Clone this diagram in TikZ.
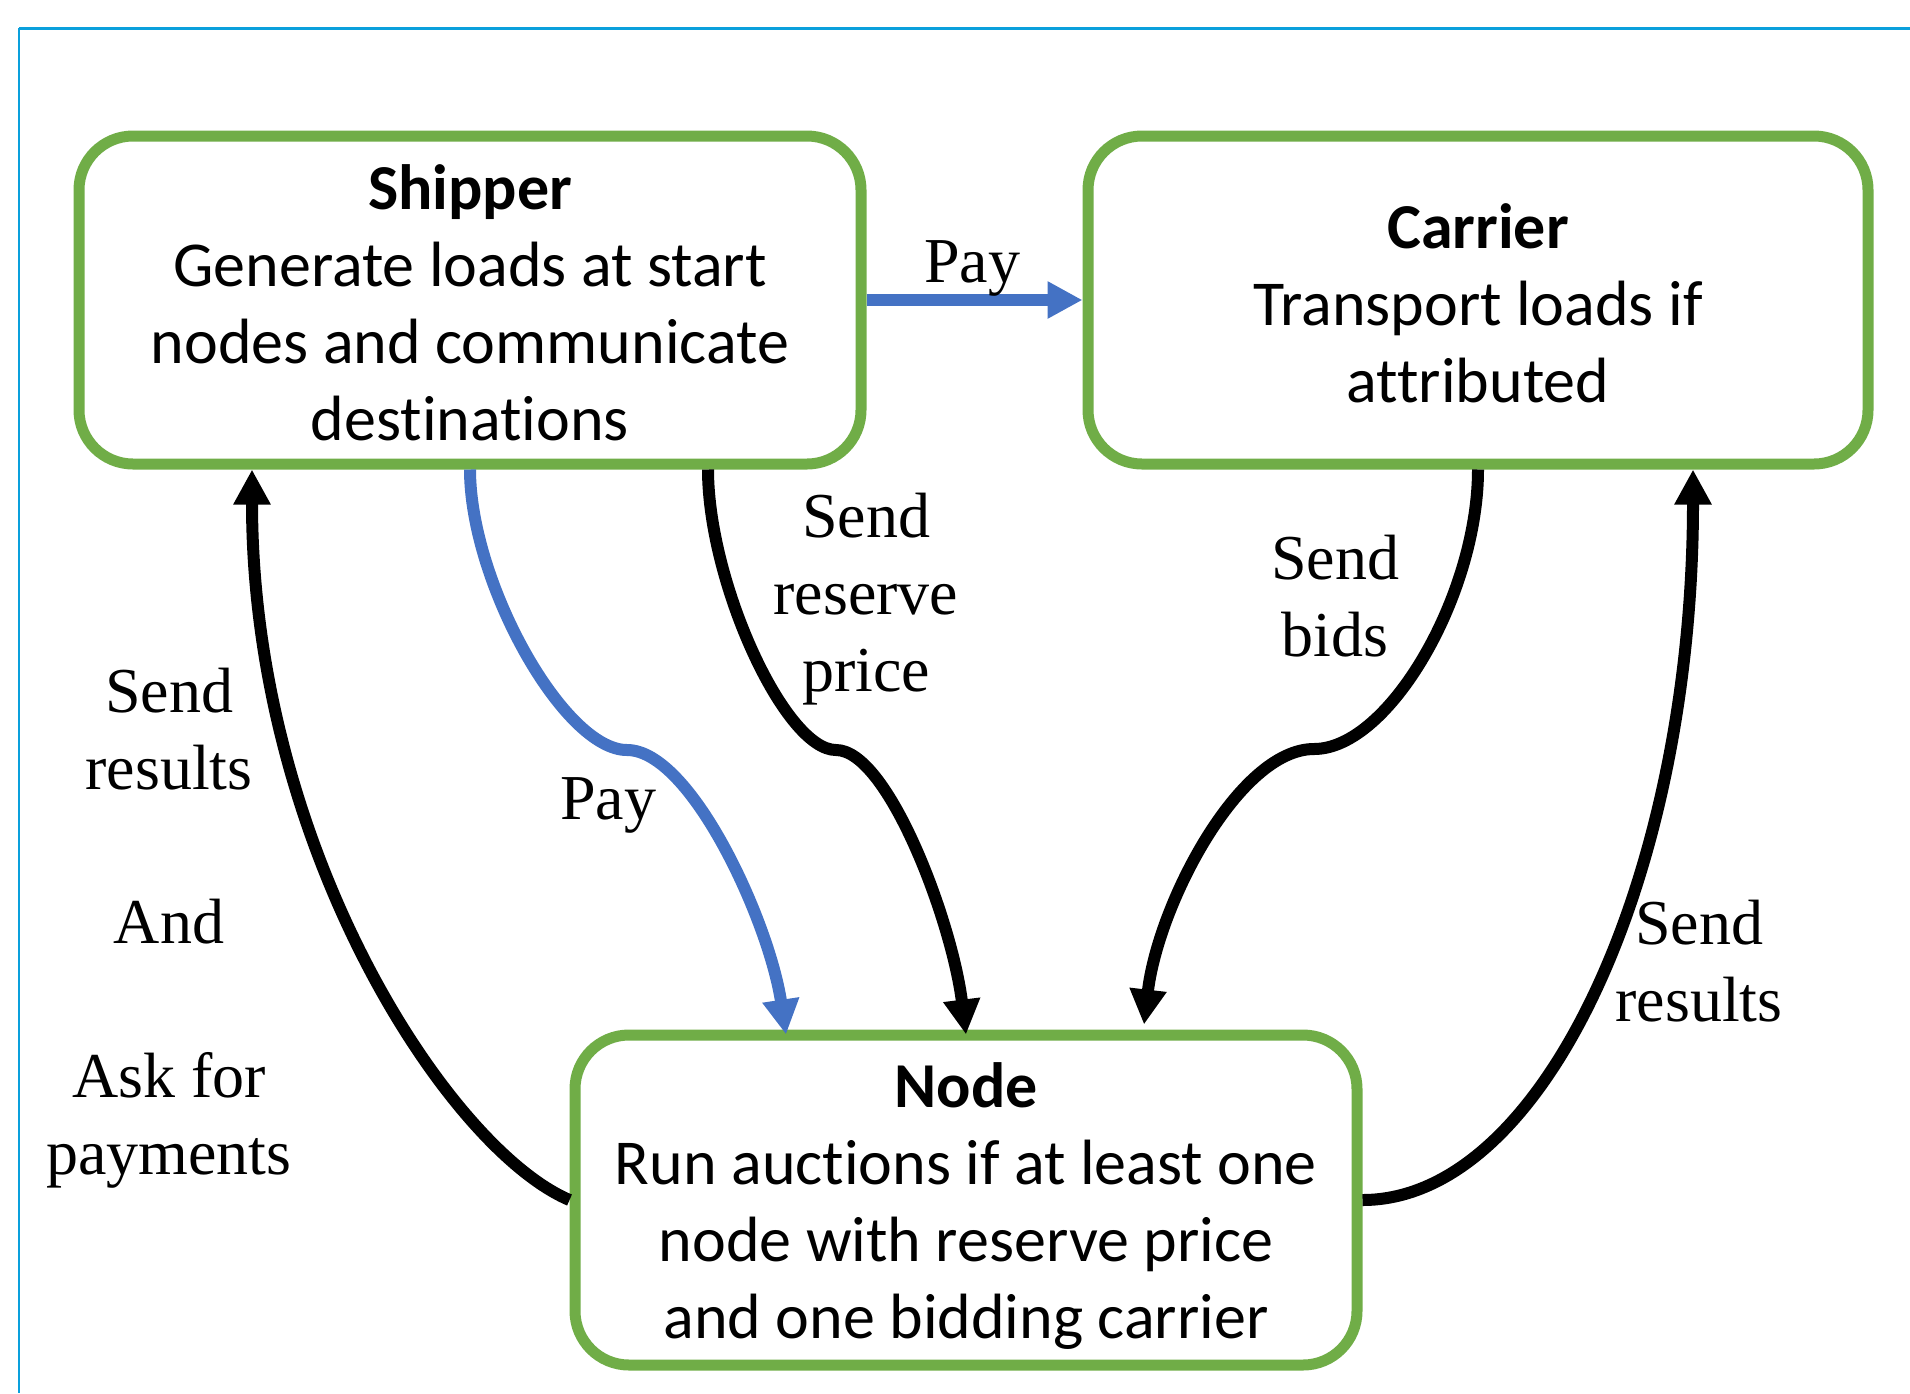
\documentclass[tikz,border=0pt]{standalone}
\usepackage{fontspec}
\setmainfont{Liberation Serif}
\newfontfamily\boxfont[Ligatures={NoCommon,NoContextual}]{Carlito}
\usetikzlibrary{arrows.meta}
\definecolor{boxgreen}{HTML}{70AD47}
\definecolor{arrowblue}{HTML}{4472C4}
\definecolor{framecol}{HTML}{0AA0DC}
\tikzset{
  actor/.style={draw=boxgreen, line width=5.5pt, rounded corners=27pt, fill=white,
    minimum width=391pt, minimum height=164pt, inner sep=0pt},
  boxtext/.style={align=center, inner sep=0pt,
    font=\boxfont\fontsize{32}{38.5}\selectfont},
  lbl/.style={align=center, inner sep=0pt, font=\fontsize{32}{38.5}\selectfont},
  conn/.style={line width=6pt, -{Triangle[length=17.5pt,width=17.5pt]}},
  blueconn/.style={conn, draw=arrowblue, color=arrowblue},
  blackconn/.style={conn, draw=black}
}
\begin{document}
\begin{tikzpicture}[x=0.5pt,y=-0.5pt]
\useasboundingbox (0,0) rectangle (1910,1393);
% frame
\draw[framecol, line width=1.5pt] (19,28) -- (1910,28);
\draw[framecol, line width=1pt] (19,28) -- (19,1393);
% boxes
\node[actor] (shipper) at (470,300) {};
\node[actor, minimum width=390pt] (carrier) at (1478,300) {};
\node[actor, minimum height=165pt] (auction) at (966,1200) {};
\node[boxtext] (shippertext) at ([yshift=-1.3pt]shipper.center) {\textbf{Shipper}\\Generate loads at start\\nodes and communicate\\destinations};
\node[boxtext] (carriertext) at ([yshift=-1.8pt]carrier.center) {\textbf{Carrier}\\Transport loads if\\attributed};
\node[boxtext] (auctiontext) at ([yshift=-3pt]auction.center) {\textbf{Node}\\Run auctions if at least one\\node with reserve price\\and one bidding carrier};
% mid coordinates
\coordinate (mblue) at (627,750);
\coordinate (mres) at (836,750);
\coordinate (mbid) at (1314,749);
% connectors
\draw[blueconn] (shipper.east) -- (carrier.west);
\draw[blueconn] (shipper.south) .. controls +(0,113) and +(-63,0) .. (mblue)
  .. controls +(64,0) and +(-17,-113) .. ([xshift=-90pt,yshift=-2.5pt]auction.north);
\draw[blackconn] ([xshift=119pt]shipper.south) .. controls +(0,113) and +(-51,0) .. (mres)
  .. controls +(52,0) and +(-14,-113) .. ([yshift=-2.5pt]auction.north);
\draw[blackconn] (carrier.south) .. controls +(0,125) and +(75,0) .. (mbid)
  .. controls +(-75,0) and +(14,-120) .. ([xshift=89pt,yshift=2.5pt]auction.north);
\draw[blackconn] (auction.east) .. controls +(182,0) and +(0,403) .. ([xshift=107.5pt]carrier.south);
\draw[blackconn] (auction.west) .. controls +(-120,-51) and +(0,380) .. ([xshift=-109pt]shipper.south);
% labels
\node[lbl] (lpaytop) at (972,268) {Pay};
\node[lbl] (lres) at (866,599) {Send\\reserve\\price};
\node[lbl] (lbids) at (1335,596) {Send\\bids};
\node[lbl] (lpay) at (608,805) {Pay};
\node[lbl] (lleft) at (169,928) {Send\\results\\[38.5pt]And\\[38.5pt]Ask for\\payments};
\node[lbl] (lright) at (1699,961) {Send\\results};
\end{tikzpicture}
\end{document}
